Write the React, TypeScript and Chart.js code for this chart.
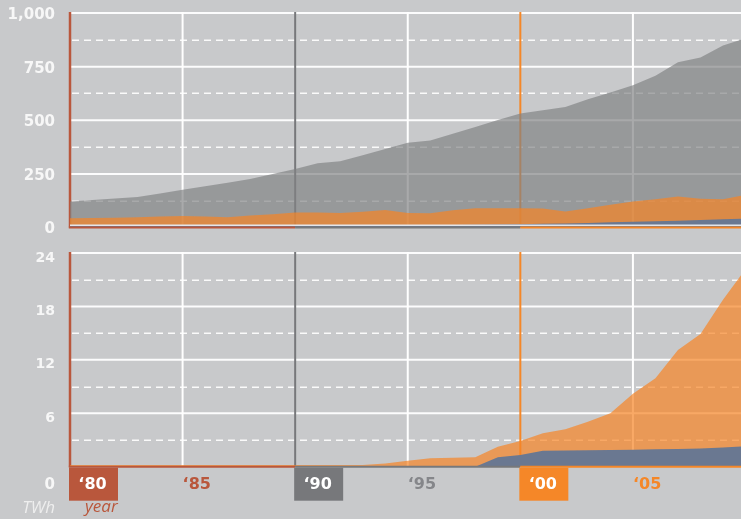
import React, { useEffect, useRef } from 'react';
import { Chart, registerables } from 'chart.js';

Chart.register(...registerables);

// ---------- data ----------
const years = [
  1980, 1981, 1982, 1983, 1984, 1985, 1986, 1987, 1988, 1989,
  1990, 1991, 1992, 1993, 1994, 1995, 1996, 1997, 1998, 1999,
  2000, 2001, 2002, 2003, 2004, 2005, 2006, 2007, 2008, 2009, 2010,
];

// upper panel (TWh, 0–1,000)
const topGray = [
  121, 128, 135, 142, 159, 176, 192, 209, 226, 249,
  273, 299, 309, 337, 366, 395, 406, 437, 469, 501,
  532, 547, 562, 598, 629, 663, 707, 770, 793, 848, 882,
];
const topOrange = [
  43, 44, 46, 48, 51, 54, 51, 48, 56, 62,
  70, 70, 68, 74, 82, 68, 67, 80, 90, 90,
  90, 88, 75, 90, 106, 121, 132, 145, 134, 132, 152,
];
const topBlue = [
  9, 9, 9, 9, 9, 9, 9, 9, 9, 9,
  9, 9, 9, 9, 9, 10, 11, 12, 13, 14,
  15, 17, 19, 21, 24, 27, 29, 32, 35, 38, 41,
];

// lower panel (TWh, 0–24)
const bottomOrange = [
  0.2, 0.2, 0.2, 0.2, 0.2, 0.2, 0.2, 0.2, 0.2, 0.2,
  0.2, 0.2, 0.2, 0.2, 0.35, 0.68, 0.94, 1.0, 1.05, 2.25,
  2.89, 3.75, 4.2, 5.06, 6.0, 8.18, 9.94, 13.1, 14.9, 18.75, 22.2,
];
const bottomBlue = [
  0, 0, 0, 0, 0, 0, 0, 0, 0, 0,
  0, 0, 0, 0, 0, 0, 0, 0, 0, 1.05,
  1.3, 1.8, 1.82, 1.85, 1.88, 1.9, 1.95, 2.0, 2.05, 2.15, 2.3,
];

const markYears = [1980, 1985, 1990, 1995, 2000, 2005];
const markLabels = ['\u201880', '\u201885', '\u201890', '\u201895', '\u201800', '\u201805'];
const topMax = 1000;
const topStep = 250;
const bottomMax = 24;
const bottomStep = 6;
const xMin = 1980;
const xMax = 2009.8;

// ---------- styles ----------
const BG = '#c8c9cb';
const RED = '#b9573c';
const DGRAY = '#77787b';
const ORANGE = '#f58728';
const NUMFONT = "'DejaVu Sans', sans-serif";
const TXTFONT = "'Open Sans', 'Noto Sans', sans-serif";

const lineColorFor = (yr: number) =>
  yr === 1980 ? RED : yr === 1990 ? DGRAY : yr === 2000 ? ORANGE : '#ffffff';
const textColorFor = (yr: number) =>
  yr < 1990 ? RED : yr < 2000 ? '#85868a' : ORANGE;
const boxed = (yr: number) => yr % 10 === 0;

const pts = (vals: number[]) => years.map((x, i) => ({ x, y: vals[i] }));

function makeGridPlugin(step: number, lightLine: boolean, bottomLabels: boolean) {
  return {
    id: 'customGrid',
    beforeDatasetsDraw(chart: any) {
      const { ctx, chartArea: a, scales } = chart;
      const xs = scales.x;
      const ys = scales.y;
      ctx.save();
      // dashed half-step lines
      ctx.setLineDash([7, 5]);
      ctx.lineWidth = 1.5;
      ctx.strokeStyle = 'rgba(255,255,255,0.9)';
      for (let v = ys.min + step / 2; v < ys.max; v += step) {
        const py = Math.round(ys.getPixelForValue(v)) + 0.25;
        ctx.beginPath();
        ctx.moveTo(a.left + 2, py);
        ctx.lineTo(a.right, py);
        ctx.stroke();
      }
      ctx.setLineDash([]);
      ctx.lineWidth = 2;
      ctx.strokeStyle = 'rgba(255,255,255,0.95)';
      for (let v = ys.min + step; v <= ys.max + 1e-9; v += step) {
        const py = ys.getPixelForValue(v);
        ctx.beginPath();
        ctx.moveTo(a.left, py);
        ctx.lineTo(a.right, py);
        ctx.stroke();
      }
      // vertical year lines
      markYears.forEach((yr) => {
        const px = xs.getPixelForValue(yr);
        ctx.strokeStyle = lineColorFor(yr);
        ctx.lineWidth = yr === 1980 ? 2.5 : 2;
        ctx.beginPath();
        ctx.moveTo(px, a.top - 1);
        ctx.lineTo(px, a.bottom);
        ctx.stroke();
      });
      ctx.restore();
    },
    afterDatasetsDraw(chart: any) {
      const { ctx, chartArea: a, scales } = chart;
      const xs = scales.x;
      const ys = scales.y;
      const y0 = ys.getPixelForValue(0);
      ctx.save();
      if (lightLine) {
        ctx.strokeStyle = '#e3e6eb';
        ctx.lineWidth = 1.5;
        ctx.beginPath();
        ctx.moveTo(a.left, y0 - 2.3);
        ctx.lineTo(a.right, y0 - 2.3);
        ctx.stroke();
      }
      const x80 = xs.getPixelForValue(1980);
      const x90 = xs.getPixelForValue(1990);
      const x00 = xs.getPixelForValue(2000);
      const segs: [number, number, string][] = [
        [x80 - 1.2, x90, RED],
        [x90, x00, DGRAY],
        [x00, a.right, ORANGE],
      ];
      ctx.lineWidth = 2;
      segs.forEach(([s, e, c]) => {
        ctx.strokeStyle = c;
        ctx.beginPath();
        ctx.moveTo(s, y0);
        ctx.lineTo(e, y0);
        ctx.stroke();
      });
      ctx.restore();
    },
    afterDraw(chart: any) {
      if (!bottomLabels) return;
      const { ctx, scales } = chart;
      const xs = scales.x;
      const ys = scales.y;
      const y0 = ys.getPixelForValue(0);
      ctx.save();
      ctx.textBaseline = 'middle';
      markYears.forEach((yr, i) => {
        const px = xs.getPixelForValue(yr);
        ctx.font = `bold 16px ${NUMFONT}`;
        if (boxed(yr)) {
          ctx.fillStyle = yr === 1980 ? RED : yr === 1990 ? DGRAY : ORANGE;
          ctx.fillRect(px - 1, y0 + 1, 49, 33);
          ctx.fillStyle = '#ffffff';
          ctx.textAlign = 'center';
          ctx.fillText(markLabels[i], px + 22.5, y0 + 18);
        } else {
          ctx.fillStyle = textColorFor(yr);
          ctx.textAlign = 'left';
          ctx.fillText(markLabels[i], px, y0 + 18);
        }
      });
      // zero label, unit and axis name
      ctx.textAlign = 'right';
      ctx.fillStyle = '#f7f7f7';
      ctx.font = `bold 15px ${NUMFONT}`;
      ctx.fillText('0', 55, y0 + 18);
      ctx.font = `italic 17px ${TXTFONT}`;
      ctx.fillStyle = '#eeeeee';
      ctx.fillText('TWh', 55, y0 + 41);
      ctx.textAlign = 'left';
      ctx.fillStyle = RED;
      ctx.fillText('year', 85, y0 + 40);
      ctx.restore();
    },
  };
}

function baseOptions(max: number, step: number, padTop: number, padBottom: number, fontSize: number, labelOffset: number, hideZero: boolean) {
  return {
    responsive: false,
    animation: false as const,
    layout: { padding: { top: padTop, bottom: padBottom, left: 0, right: 0 } },
    plugins: { legend: { display: false }, tooltip: { enabled: false } },
    elements: { point: { radius: 0 }, line: { tension: 0, borderWidth: 0 } },
    scales: {
      x: { type: 'linear' as const, min: xMin, max: xMax, display: false },
      y: {
        type: 'linear' as const,
        min: 0,
        max,
        grid: { display: false, drawTicks: false },
        border: { display: false },
        afterFit: (scale: any) => {
          scale.width = 70;
          scale.paddingTop = 0;
          scale.paddingBottom = 0;
        },
        ticks: {
          stepSize: step,
          padding: 15,
          labelOffset,
          color: '#f7f7f7',
          font: { family: NUMFONT, weight: 'bold' as const, size: fontSize },
          callback: (v: any) => (hideZero && Number(v) === 0 ? '' : Number(v).toLocaleString('en-US')),
        },
      },
    },
  };
}

function TopChart() {
  const ref = useRef<HTMLCanvasElement | null>(null);
  useEffect(() => {
    if (!ref.current) return;
    const chart = new Chart(ref.current, {
      type: 'line',
      data: {
        datasets: [
          { data: pts(topBlue), fill: 'origin', backgroundColor: '#6a7891', borderWidth: 0, pointRadius: 0 },
          { data: pts(topOrange), fill: 'origin', backgroundColor: 'rgba(246,132,37,0.70)', borderWidth: 0, pointRadius: 0 },
          { data: pts(topGray), fill: 'origin', backgroundColor: 'rgba(128,129,131,0.68)', borderWidth: 0, pointRadius: 0 },
        ],
      },
      options: baseOptions(topMax, topStep, 13, 12.5, 15, 2, false) as any,
      plugins: [makeGridPlugin(topStep, true, false) as any],
    });
    return () => chart.destroy();
  }, []);
  return <canvas ref={ref} width={741} height={240} style={{ position: 'absolute', left: 0, top: 0 }} />;
}

function BottomChart() {
  const ref = useRef<HTMLCanvasElement | null>(null);
  useEffect(() => {
    if (!ref.current) return;
    const chart = new Chart(ref.current, {
      type: 'line',
      data: {
        datasets: [
          { data: pts(bottomBlue), fill: 'origin', backgroundColor: '#6a7891', borderWidth: 0, pointRadius: 0 },
          { data: pts(bottomOrange), fill: 'origin', backgroundColor: 'rgba(246,132,37,0.70)', borderWidth: 0, pointRadius: 0 },
        ],
      },
      options: baseOptions(bottomMax, bottomStep, 13, 52.3, 14, 5, true) as any,
      plugins: [makeGridPlugin(bottomStep, false, true) as any],
    });
    return () => chart.destroy();
  }, []);
  return <canvas ref={ref} width={741} height={279} style={{ position: 'absolute', left: 0, top: 240 }} />;
}

export default function App() {
  return (
    <div
      style={{
        position: 'fixed',
        left: 0,
        top: 0,
        width: 741,
        height: 519,
        background: BG,
        overflow: 'hidden',
      }}
    >
      <TopChart />
      <BottomChart />
    </div>
  );
}
